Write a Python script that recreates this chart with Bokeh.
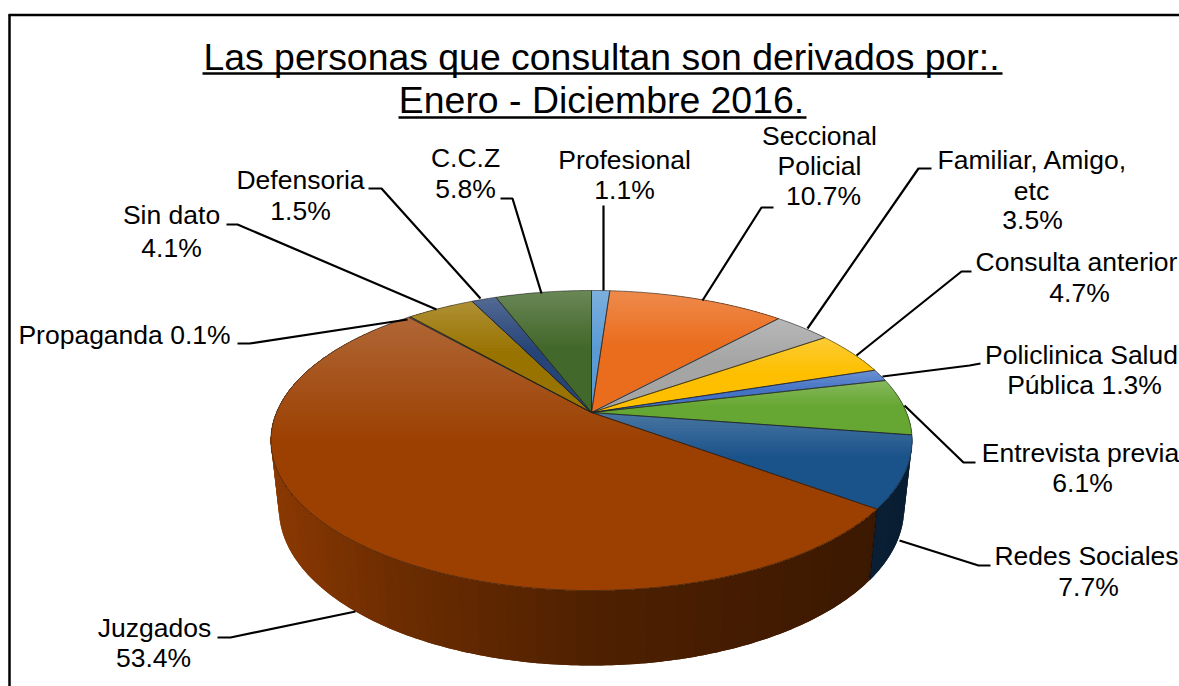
import numpy as np
from bokeh.plotting import figure
from bokeh.models import Range1d, ColumnDataSource
from bokeh.core.properties import value
from bokeh.embed import file_html
from bokeh.resources import INLINE

# ---- data ----
categories = ["Profesional", "Seccional Policial", "Familiar, Amigo, etc", "Consulta anterior",
              "Policlinica Salud Pública", "Entrevista previa", "Redes Sociales", "Juzgados",
              "Propaganda", "Sin dato", "Defensoria", "C.C.Z"]
percent = [1.1, 10.7, 3.5, 4.7, 1.3, 6.1, 7.7, 53.4, 0.1, 4.1, 1.5, 5.8]
colors = ["#5b9bd5", "#ea6c1d", "#a5a5a5", "#fdbf00", "#4472c4", "#66a632",
          "#1a528a", "#9c4002", "#636363", "#997300", "#264478", "#43682b"]
title_lines = ["Las personas que consultan son derivados por:.", "Enero - Diciembre 2016."]
title_x = [601, 601]
title_y = [56, 99]
title_rule_x0 = [202, 398]
title_rule_x1 = [1002, 806]
title_rule_y = [73, 117]

label_text = ["Profesional", "1.1%", "Seccional", "Policial", "10.7%", "Familiar, Amigo,", "etc", "3.5%",
              "Consulta anterior", "4.7%", "Policlinica Salud", "Pública 1.3%", "Entrevista previa", "6.1%",
              "Redes Sociales", "7.7%", "Juzgados", "53.4%", "Propaganda 0.1%", "Sin dato", "4.1%",
              "Defensoria", "1.5%", "C.C.Z", "5.8%"]
label_x = [624, 624, 819, 819, 823, 1032, 1031, 1032,
           1076, 1079, 1081, 1084, 1080, 1082,
           1086, 1088, 154, 153, 124, 171, 171, 300, 300, 465, 465]
label_y = [159, 189, 135, 165, 195, 159, 190, 219,
           261, 292, 354, 384, 452, 482,
           555, 586, 627, 657, 334, 214, 247, 179, 210, 157, 188]

leaders = [
    ([603, 603], [205, 290]),
    ([773, 761, 702], [207, 207, 300]),
    ([931, 918, 807], [168, 168, 328]),
    ([971, 961, 856], [271, 271, 355]),
    ([980, 969, 882], [363, 365, 376]),
    ([975, 963, 904], [462, 462, 405]),
    ([990, 978, 899], [565, 565, 540]),
    ([217, 230, 355], [637, 637, 611]),
    ([237, 249, 407], [343, 343, 319]),
    ([226, 237, 436], [224, 224, 309]),
    ([368, 381, 480], [188, 188, 298]),
    ([500, 512, 541], [198, 198, 293]),
]

# ---- pie geometry (perspective disc) ----
CX, CY = 591.0, 412.0
R, H, K = 315.0, 144.8, 0.1867
TOP_CY, TOP_RX, TOP_RY = 440.0, 321.0, 150.0
BOT_CY, BOT_RX, BOT_RY = 508.0, 313.0, 157.0


def top_point(a):
    u, v = np.sin(a), -np.cos(a)
    s = 1.0 / (1.0 - K * v)
    return CX + R * u * s, CY + H * v * s


def bottom_point(a):
    x, y = top_point(a)
    return CX + BOT_RX * (x - CX) / TOP_RX, BOT_CY + BOT_RY * (y - TOP_CY) / TOP_RY


def rgb(h):
    return np.array([int(h[i:i + 2], 16) for i in (1, 3, 5)], dtype=float)


def tohex(c):
    c = np.clip(np.round(c), 0, 255).astype(int)
    return "#%02x%02x%02x" % tuple(c)


def clip_below(px, py, y0):
    out = []
    n = len(px)
    for i in range(n):
        ax, ay, bx, by = px[i], py[i], px[(i + 1) % n], py[(i + 1) % n]
        ia, ib = ay >= y0, by >= y0
        if ia:
            out.append((ax, ay))
        if ia != ib:
            t = (y0 - ay) / (by - ay)
            out.append((ax + t * (bx - ax), y0))
    return out


frac = np.array(percent) / sum(percent)
edges = np.concatenate([[0.0], np.cumsum(frac)]) * 2 * np.pi

p = figure(width=1179, height=686, output_backend="svg", toolbar_location=None,
           x_range=Range1d(0, 1179), y_range=Range1d(686, 0), min_border=0,
           outline_line_color=None, background_fill_color="white", border_fill_color="white")
p.axis.visible = False
p.grid.visible = False

# ---- frame ----
p.segment([9, 8], [14, 14.5], [9, 1179], [686, 14.5], line_color="black", line_width=2.5)

# ---- side wall: each strip overlaps the next, painted in order, so no seams show ----
tan_a, tan_b = np.radians(100.7), np.radians(259.3)
sx, sy, sc = [], [], []
shade_x = [270, 400, 600, 875, 912]
shade_f = [0.90, 0.70, 0.50, 0.38, 0.35]
order = [i for i in range(len(percent)) if min(edges[i + 1], tan_b) > max(edges[i], tan_a)]
for i in order:
    a0, a1 = max(edges[i], tan_a), min(edges[i + 1], tan_b)
    n = max(2, int((a1 - a0) / np.radians(1.5)))
    base = rgb(colors[i])
    grid = np.linspace(a0, a1, n + 1)
    for j in range(n):
        g = np.linspace(grid[j], grid[min(j + 2, n)], 5)
        tx, ty = top_point(g)
        bx, by = bottom_point(g)
        sx.append(list(tx) + list(bx[::-1]))
        sy.append(list(ty) + list(by[::-1]))
        sc.append(tohex(base * np.interp(bx[0], shade_x, shade_f)))
p.patches(sx, sy, fill_color=sc, line_color=None)

for e in edges:
    if tan_a < e < tan_b:
        tx, ty = top_point(e)
        bx, by = bottom_point(e)
        p.line([tx, bx], [ty, by], line_color="#000000", line_alpha=0.6, line_width=1)

# ---- top face: vertical gradient per slice, painted top-down ----
fx, fy, fc = [], [], []
outlines_x, outlines_y = [], []
for i in range(len(percent)):
    n = max(3, int((edges[i + 1] - edges[i]) / np.radians(0.5)))
    g = np.linspace(edges[i], edges[i + 1], n + 1)
    rx, ry = top_point(g)
    px = np.concatenate([[CX], rx])
    py = np.concatenate([[CY], ry])
    outlines_x.append(list(px) + [CX])
    outlines_y.append(list(py) + [CY])
    ymin, ymax = py.min(), py.max()
    base = rgb(colors[i])
    nb = max(4, int(0.45 * (ymax - ymin) / 3))
    for b in range(nb + 1):
        t = 0.45 * b / nb
        pts = clip_below(px, py, ymin + t * (ymax - ymin))
        if len(pts) < 3:
            continue
        mix = 0.2 * (1 - b / nb)
        fx.append([q[0] for q in pts])
        fy.append([q[1] for q in pts])
        fc.append(tohex(base * (1 - mix) + 255 * mix))
p.patches(fx, fy, fill_color=fc, line_color=None)
p.multi_line(outlines_x, outlines_y, line_color="#202020", line_alpha=0.65, line_width=0.9)

# ---- leaders ----
p.multi_line([l[0] for l in leaders], [l[1] for l in leaders], line_color="black", line_width=2.2)

# ---- title ----
p.text(title_x, title_y, text=title_lines, text_font=value("Liberation Sans"), text_font_size="37.4px",
       text_align="center", text_baseline="middle", text_color="black")
p.segment(title_rule_x0, title_rule_y, title_rule_x1, title_rule_y, line_color="black", line_width=2.5)

# ---- labels ----
src = ColumnDataSource(dict(x=label_x, y=label_y, t=label_text))
p.text("x", "y", text="t", source=src, text_font=value("Liberation Sans"), text_font_size="26.5px",
       text_align="center", text_baseline="middle", text_color="black")

open("out.html", "w").write(file_html(p, INLINE))
